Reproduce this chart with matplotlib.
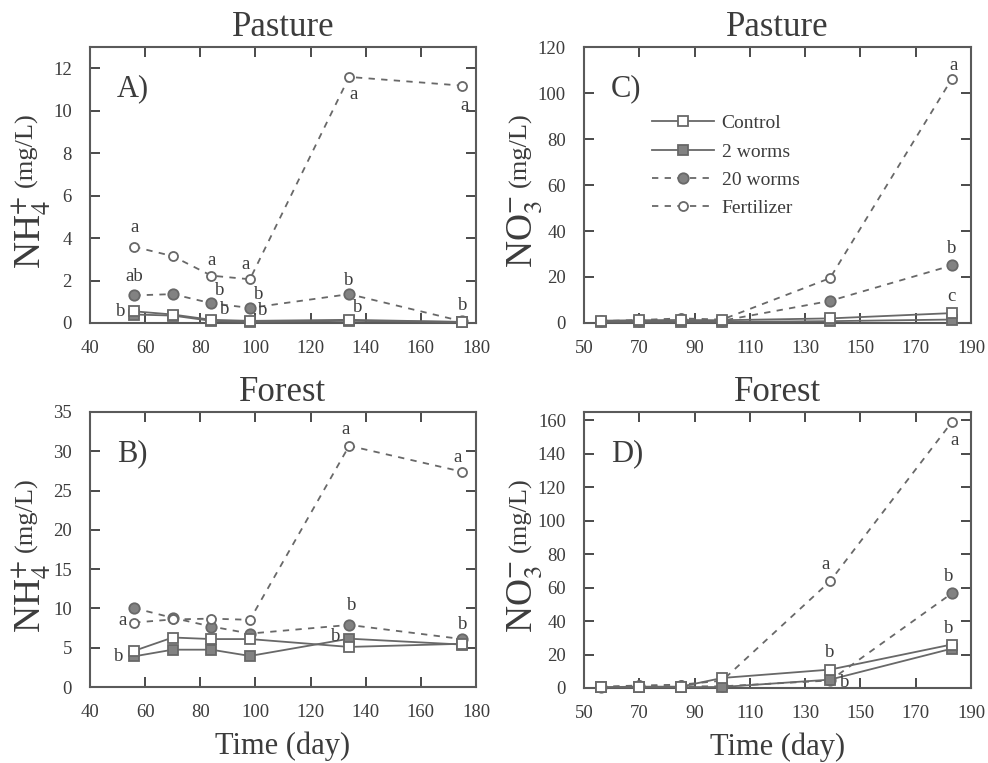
import numpy as np
import matplotlib
matplotlib.use("Agg")
import matplotlib.pyplot as plt

plt.rcParams['font.family'] = ['Liberation Serif', 'DejaVu Serif']
plt.rcParams['mathtext.fontset'] = 'stix'

# ---- data -------------------------------------------------------------
days_nh4 = [56, 70, 84, 98, 134, 175]
days_no3 = [56, 70, 85, 100, 139, 183]

# A) Pasture NH4+
A_ctrl = [0.55, 0.40, 0.15, 0.10, 0.15, 0.05]
A_w2 = [0.40, 0.35, 0.10, 0.05, 0.10, 0.05]
A_w20 = [1.30, 1.36, 0.93, 0.71, 1.36, 0.08]
A_fert = [3.59, 3.15, 2.23, 2.06, 11.59, 11.18]

# B) Forest NH4+
B_ctrl = [4.6, 6.3, 6.1, 6.1, 5.1, 5.5]
B_w2 = [3.9, 4.75, 4.75, 3.95, 6.15, 5.4]
B_w20 = [10.05, 8.8, 7.7, 6.8, 7.9, 6.1]
B_fert = [8.2, 8.6, 8.7, 8.55, 30.7, 27.4]

# C) Pasture NO3-
C_ctrl = [1.0, 1.2, 1.3, 1.2, 2.0, 4.3]
C_w2 = [0.5, 0.5, 0.5, 0.5, 0.8, 1.5]
C_w20 = [0.8, 1.0, 1.2, 1.0, 9.6, 25.0]
C_fert = [0.8, 1.3, 2.0, 1.5, 19.5, 106.0]

# D) Forest NO3-
D_ctrl = [0.5, 0.8, 0.8, 6.0, 11.0, 26.0]
D_w2 = [0.3, 0.5, 0.5, 0.6, 5.0, 23.5]
D_w20 = [0.5, 1.0, 1.0, 1.0, 4.5, 56.5]
D_fert = [0.8, 1.5, 2.0, 4.4, 63.8, 158.8]

series_names = ['Control', '2 worms', '20 worms', 'Fertilizer']

# letters: (series, point index, letter)
A_letters = [('fert', 0, 'a'), ('w20', 0, 'ab'), ('ctrl', 0, 'b'),
             ('fert', 2, 'a'), ('w20', 2, 'b'), ('ctrl', 2, 'b'),
             ('fert', 3, 'a'), ('w20', 3, 'b'), ('ctrl', 3, 'b'),
             ('fert', 4, 'a'), ('w20', 4, 'b'), ('ctrl', 4, 'b'),
             ('fert', 5, 'a'), ('ctrl', 5, 'b')]
B_letters = [('fert', 0, 'a'), ('w2', 0, 'b'),
             ('fert', 4, 'a'), ('w20', 4, 'b'), ('w2', 4, 'b'),
             ('fert', 5, 'a'), ('w20', 5, 'b')]
C_letters = [('fert', 5, 'a'), ('w20', 5, 'b'), ('ctrl', 5, 'c')]
D_letters = [('fert', 4, 'a'), ('ctrl', 4, 'b'), ('w2', 4, 'b'),
             ('fert', 5, 'a'), ('w20', 5, 'b'), ('ctrl', 5, 'b')]

# letter offsets in pixels (layout only)
A_off = [(0, 19), (0, 19), (-13, 0), (0, 15), (8, 13), (13, 10),
         (-4, 15), (9, 13), (13, 10), (4, -18), (0, 14), (9, 12),
         (2, -20), (0, 16)]
B_off = [(-12, 2), (-15, 0), (-4, 16), (3, 19), (-13, 2), (-5, 14), (0, 15)]
C_off = [(2, 14), (0, 17), (0, 17)]
D_off = [(-4, 17), (0, 17), (15, -3), (3, -18), (-3, 17), (-3, 16)]

# ---- style ------------------------------------------------------------
line_col = '#686868'
fill_col = '#828282'
text_col = '#3c3c3c'

styles = {
    'ctrl': dict(ls='-', marker='s', mfc='white', ms=7.5),
    'w2': dict(ls='-', marker='s', mfc=fill_col, ms=7.5),
    'w20': dict(ls=(0, (3.5, 3.5)), marker='o', mfc=fill_col, ms=7.5),
    'fert': dict(ls=(0, (3.5, 3.5)), marker='o', mfc='white', ms=6.5),
}
draw_order = ['w20', 'fert', 'w2', 'ctrl']
label_of = {'ctrl': 'Control', 'w2': '2 worms', 'w20': '20 worms', 'fert': 'Fertilizer'}

fig = plt.figure(figsize=(9.88, 7.63), dpi=100)

W, H = 988.0, 763.0
def box(l, t, r, b):
    return [l / W, 1 - b / H, (r - l) / W, (b - t) / H]

panels = [
    dict(rect=box(90, 47, 476, 323), x=days_nh4, d=dict(ctrl=A_ctrl, w2=A_w2, w20=A_w20, fert=A_fert),
         xlim=(40, 180), xt=np.arange(40, 181, 20), ylim=(0, 13), yt=np.arange(0, 13, 2),
         title='Pasture', tag='A)', ion='NH', sub='4', sup='+', letters=A_letters, off=A_off, xlab=False),
    dict(rect=box(584, 47, 971, 323), x=days_no3, d=dict(ctrl=C_ctrl, w2=C_w2, w20=C_w20, fert=C_fert),
         xlim=(50, 190), xt=np.arange(50, 191, 20), ylim=(0, 120), yt=np.arange(0, 121, 20),
         title='Pasture', tag='C)', ion='NO', sub='3', sup='-', letters=C_letters, off=C_off, xlab=False),
    dict(rect=box(90, 412, 476, 687), x=days_nh4, d=dict(ctrl=B_ctrl, w2=B_w2, w20=B_w20, fert=B_fert),
         xlim=(40, 180), xt=np.arange(40, 181, 20), ylim=(0, 35), yt=np.arange(0, 36, 5),
         title='Forest', tag='B)', ion='NH', sub='4', sup='+', letters=B_letters, off=B_off, xlab=True),
    dict(rect=box(584, 412, 971, 688), x=days_no3, d=dict(ctrl=D_ctrl, w2=D_w2, w20=D_w20, fert=D_fert),
         xlim=(50, 190), xt=np.arange(50, 191, 20), ylim=(0, 165), yt=np.arange(0, 161, 20),
         title='Forest', tag='D)', ion='NO', sub='3', sup='-', letters=D_letters, off=D_off, xlab=True),
]

for p in panels:
    ax = fig.add_axes(p['rect'])
    handles = {}
    for k in draw_order:
        st = styles[k]
        h, = ax.plot(p['x'], p['d'][k], color=line_col, lw=1.3, ls=st['ls'],
                     marker=st['marker'], ms=st['ms'], mfc=st['mfc'], mec=line_col,
                     mew=1.3, clip_on=False, label=label_of[k], zorder=3)
        handles[k] = h
    ax.set_xlim(*p['xlim'])
    ax.set_ylim(*p['ylim'])
    ax.set_xticks(p['xt'])
    ax.set_yticks(p['yt'])
    ax.tick_params(direction='in', top=True, right=True, length=7.5, width=1.3,
                   colors=text_col, labelsize=13.5)
    ax.tick_params(axis='y', pad=13)
    ax.tick_params(axis='x', pad=12)
    for sp in ax.spines.values():
        sp.set_color('#5a5a5a')
        sp.set_linewidth(1.5)
    ax.set_title(p['title'], fontsize=25, color=text_col, pad=8)
    ax.text(0.07, 0.85, p['tag'], transform=ax.transAxes, fontsize=22,
            color=text_col, va='center', ha='left')
    # y label: big ion, smaller units
    ax.text(-0.153, 0.33, p['ion'] + r'$_{' + p['sub'] + r'}^{' + p['sup'] + r'}$',
            transform=ax.transAxes, rotation=90, fontsize=27, color=text_col,
            ha='center', va='center')
    ax.text(-0.165, 0.627, '(mg/L)', transform=ax.transAxes, rotation=90,
            fontsize=19, color=text_col, ha='center', va='center')
    if p['xlab']:
        ax.set_xlabel('Time (day)', fontsize=22, color=text_col, labelpad=8)
    for (k, i, s), (dx, dy) in zip(p['letters'], p['off']):
        ax.annotate(s, (p['x'][i], p['d'][k][i]), xytext=(dx, dy),
                    textcoords='offset pixels', ha='center', va='center',
                    fontsize=13.5, color=text_col, zorder=4)
    if p['tag'] == 'C)':
        ax.legend([handles[k] for k in ['ctrl', 'w2', 'w20', 'fert']],
                  series_names, loc='upper left', bbox_to_anchor=(0.175, 0.755),
                  frameon=False, fontsize=14, handlelength=3.2, handletextpad=0.4,
                  labelspacing=0.55, borderpad=0, borderaxespad=0, labelcolor=text_col)

fig.savefig('out.png', dpi=100)
